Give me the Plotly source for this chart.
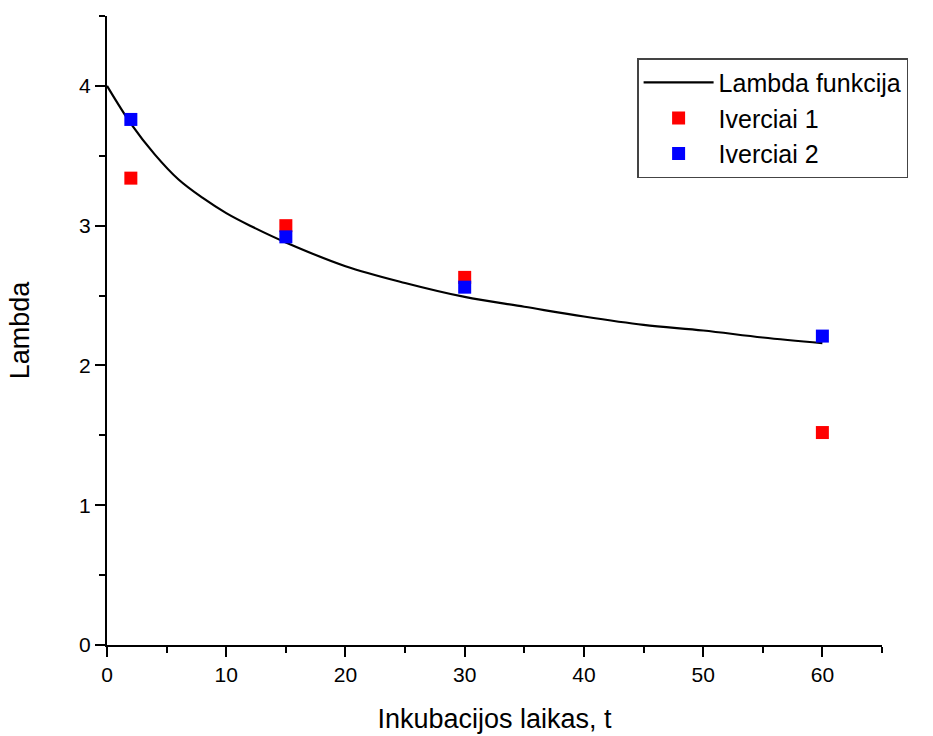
import plotly.graph_objects as go

# Data
curve_t = [0, 2, 4, 6, 8, 10, 12, 15, 20, 25, 30, 35, 40, 45, 50, 55, 60]
curve_lambda = [4.00, 3.73, 3.51, 3.33, 3.20, 3.09, 3.00, 2.88, 2.71, 2.59, 2.49, 2.42, 2.35, 2.29, 2.25, 2.20, 2.16]

points_t = [2, 15, 30, 60]
iverciai_1 = [3.34, 3.00, 2.63, 1.52]
iverciai_2 = [3.76, 2.92, 2.56, 2.21]

x_ticks = [0, 10, 20, 30, 40, 50, 60]
y_ticks = [0, 1, 2, 3, 4]

FONT = "Liberation Sans, Arial, sans-serif"

fig = go.Figure()
fig.add_trace(go.Scatter(
    x=curve_t, y=curve_lambda, mode="lines", name="Lambda funkcija",
    line=dict(color="black", width=2.2, shape="spline", smoothing=1.0),
))
fig.add_trace(go.Scatter(
    x=points_t, y=iverciai_1, mode="markers", name="Iverciai 1",
    marker=dict(symbol="square", size=13, color="#ff0000", line=dict(width=0)),
))
fig.add_trace(go.Scatter(
    x=points_t, y=iverciai_2, mode="markers", name="Iverciai 2",
    marker=dict(symbol="square", size=13, color="#0000ff", line=dict(width=0)),
))

axis_common = dict(
    showgrid=False, zeroline=False, showline=True, linecolor="black", linewidth=2,
    ticks="outside", ticklen=10, tickwidth=2, tickcolor="black",
    tickfont=dict(family=FONT, size=21, color="black"),
    automargin=False,
)

fig.update_layout(
    width=933, height=736,
    margin=dict(l=107, r=51, t=16, b=91),
    paper_bgcolor="white", plot_bgcolor="white",
    font=dict(family=FONT, color="black"),
    showlegend=True,
    legend=dict(
        x=0.684, y=0.933, xanchor="left", yanchor="top",
        bgcolor="white", bordercolor="#444444", borderwidth=1.5,
        font=dict(family=FONT, size=25, color="black"),
        itemwidth=70, tracegroupgap=0, entrywidth=215,
    ),
    xaxis=dict(
        range=[0, 65], tickvals=x_ticks, ticktext=[str(v) for v in x_ticks],
        minor=dict(dtick=5, tick0=0, ticks="outside", ticklen=6, tickwidth=2, tickcolor="black"),
        title=dict(text="Inkubacijos laikas, t", font=dict(family=FONT, size=27, color="black"), standoff=24),
        **axis_common,
    ),
    yaxis=dict(
        range=[0, 4.5], tickvals=y_ticks, ticktext=[str(v) for v in y_ticks],
        minor=dict(dtick=0.5, tick0=0, ticks="outside", ticklen=6, tickwidth=2, tickcolor="black"),
        title=dict(text="Lambda", font=dict(family=FONT, size=27, color="black"), standoff=42),
        **axis_common,
    ),
)

fig.write_html("out.html")
